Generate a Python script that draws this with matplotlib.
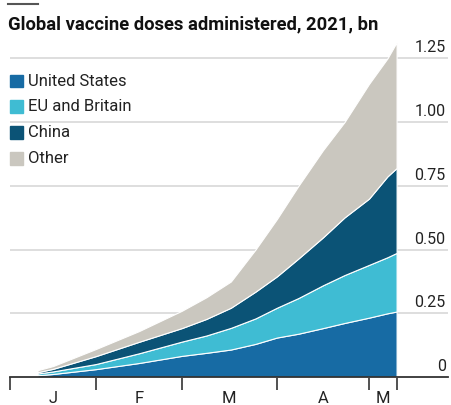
import numpy as np
import matplotlib.pyplot as plt
from matplotlib.lines import Line2D
import matplotlib.transforms as mtransforms

# days since Jan 1st 2021
days = [12, 17, 31, 45, 59, 67, 75, 83, 90, 97, 105, 112, 120, 126, 129]

# doses, bn (per region, stacked)
us = [0.007, 0.012, 0.031, 0.055, 0.083, 0.095, 0.108, 0.130, 0.155, 0.170, 0.192, 0.212, 0.233, 0.250, 0.257]
eu = [0.007, 0.010, 0.020, 0.038, 0.056, 0.068, 0.085, 0.100, 0.117, 0.140, 0.168, 0.188, 0.207, 0.220, 0.230]
china = [0.005, 0.010, 0.031, 0.045, 0.053, 0.065, 0.079, 0.105, 0.123, 0.155, 0.188, 0.226, 0.260, 0.317, 0.333]
other = [0.008, 0.011, 0.028, 0.042, 0.068, 0.085, 0.103, 0.165, 0.225, 0.285, 0.342, 0.374, 0.450, 0.463, 0.493]

labels = ["United States", "EU and Britain", "China", "Other"]
colors = ["#176ba4", "#3fbcd3", "#0b5376", "#cac7bf"]

yticks = [0, 0.25, 0.50, 0.75, 1.00, 1.25]
ytick_labels = ["0", "0.25", "0.50", "0.75", "1.00", "1.25"]
month_edges = [3, 31, 59, 90, 120, 129]
month_labels = ["J", "F", "M", "A", "M"]

plt.rcParams['font.family'] = ['Roboto', 'DejaVu Sans']

fig = plt.figure(figsize=(4.51, 4.05), dpi=100)
ax = fig.add_axes([0.022, 0.069, 0.971, 0.837])

for v in yticks[1:]:
    ax.axhline(v, color="#dedede", lw=1.4, zorder=0)

ax.stackplot(days, us, eu, china, other, colors=colors,
             edgecolor="white", linewidth=0.8, zorder=2)

ax.set_xlim(3, 145.7)
ax.set_ylim(0, 1.33)
for s in ax.spines.values():
    s.set_visible(False)
ax.set_yticks([])

# axis line at zero, with month ticks
ax.axhline(0, color="#333333", lw=1.3, zorder=3, clip_on=False)
ax.set_xticks(month_edges)
ax.set_xticklabels([])
ax.tick_params(axis="x", which="major", length=9, width=1.2, color="#333333", direction="out")
mids = [(a + b) / 2 for a, b in zip(month_edges[:-1], month_edges[1:])]
ax.set_xticks(mids, minor=True)
ax.set_xticklabels(month_labels, minor=True, fontsize=12, color="#222222")
ax.tick_params(axis="x", which="minor", length=0, pad=10)

trans = mtransforms.blended_transform_factory(ax.transAxes, ax.transData)
for v, t in zip(yticks, ytick_labels):
    ax.text(0.995, v + 0.012, t, transform=trans, ha="right", va="bottom",
            fontsize=11.5, color="#222222")

# legend
for i, (lab, c) in enumerate(zip(labels, colors)):
    y = 0.800 - i * 0.064
    fig.patches.append(plt.Rectangle((0.022, y - 0.016), 0.028, 0.032,
                                     transform=fig.transFigure, color=c))
    fig.text(0.062, y, lab, fontsize=12, color="#222222", va="center")

fig.text(0.018, 0.940, "Global vaccine doses administered, 2021, bn",
         fontsize=13.2, fontweight="bold", color="#111111", va="center")
fig.add_artist(Line2D([0.018, 0.085], [0.99, 0.99], color="#555555", lw=1.5,
                      transform=fig.transFigure))

fig.savefig("out.png", dpi=100)
